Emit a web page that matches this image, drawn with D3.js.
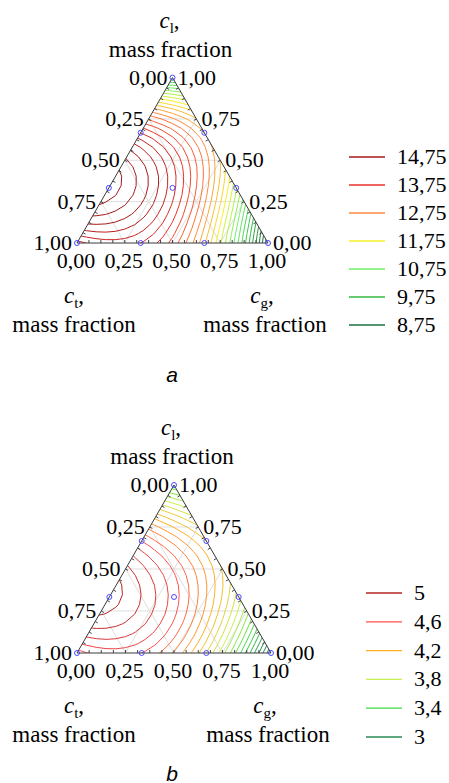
<!DOCTYPE html>
<html>
<head>
<meta charset="utf-8">
<script src="https://cdn.jsdelivr.net/npm/d3@7"></script>
<style>
body { margin: 0; background: #fff; }
</style>
</head>
<body>
<div id="chart"></div>
<script>
// simplex-lattice {3,3} plan, each point is [c_t, c_g, c_l]
const designPoints = [
    [1, 0, 0], [0, 1, 0], [0, 0, 1],
    [2/3, 1/3, 0], [1/3, 2/3, 0],
    [2/3, 0, 1/3], [1/3, 0, 2/3],
    [0, 2/3, 1/3], [0, 1/3, 2/3],
    [1/3, 1/3, 1/3]
];
// responses in the same order: t, g, l, ttg, tgg, ttl, tll, ggl, gll, tgl
const responseA = [13.9, 8.3, 9.8, 14.0, 12.3, 15.4, 14.0, 11.3, 12.5, 14.1];
const responseB = [4.55, 2.7, 3.4, 4.6, 4.0, 5.05, 4.6, 3.85, 4.1, 4.65];

const legendA = [14.75, 13.75, 12.75, 11.75, 10.75, 9.75, 8.75];
const legendColorsA = ["#a31a1a", "#e8302a", "#ff8a3d", "#f5f02a", "#6ef06a", "#35b845", "#1d6e3e"];
const legendB = [5, 4.6, 4.2, 3.8, 3.4, 3];
const legendColorsB = ["#b52525", "#ff5050", "#ffb020", "#c8f050", "#40dd40", "#2a8a55"];
const stepA = 0.25, stepB = 0.1;

const axisTicks = [0, 0.25, 0.5, 0.75, 1];
const gridValues = [0.25, 0.5, 0.75];

const W = 449, H = 783;
const SQ = Math.sqrt(3) / 2;
const SERIF = "'Liberation Serif', 'Times New Roman', Times, serif";
const fmt = d3.formatLocale({decimal: ",", thousands: " ", grouping: [3], currency: ["", ""]});
const tickFmt = fmt.format(".2f");
const legFmt = v => String(v).replace(".", ",");

let svg = d3.select("#chart").append("svg")
    .attr("width", W)
    .attr("height", H)
    .attr("font-family", SERIF)
    .attr("font-size", 22);

// full cubic Scheffe model from the 10 lattice responses
function cubicModel(y) {
    const [yt, yg, yl, yttg, ytgg, yttl, ytll, yggl, ygll, ytgl] = y;
    const b12 = 9/4 * (yttg + ytgg - yt - yg), d12 = 9/4 * (3*yttg - 3*ytgg - yt + yg);
    const b13 = 9/4 * (yttl + ytll - yt - yl), d13 = 9/4 * (3*yttl - 3*ytll - yt + yl);
    const b23 = 9/4 * (yggl + ygll - yg - yl), d23 = 9/4 * (3*yggl - 3*ygll - yg + yl);
    const b123 = 27*ytgl - 27/4 * (yttg + ytgg + yttl + ytll + yggl + ygll) + 9/2 * (yt + yg + yl);
    return (t, g, l) => yt*t + yg*g + yl*l + b12*t*g + b13*t*l + b23*g*l
        + d12*t*g*(t - g) + d13*t*l*(t - l) + d23*g*l*(g - l) + b123*t*g*l;
}

function txt(g, x, y, s, anchor, size) {
    return g.append("text").attr("x", x).attr("y", y)
        .attr("text-anchor", anchor || "middle")
        .style("font-family", SERIF).style("font-size", (size || 22) + "px").text(s);
}

function subLabel(g, x, y, sub) {
    let t = txt(g, x, y, null, "middle", 23);
    t.append("tspan").attr("font-style", "italic").text("c");
    t.append("tspan").style("font-size", "15px").attr("dy", 5).text(sub);
    t.append("tspan").attr("dy", -5).text(",");
}

function drawPanel(p) {
    let g = svg.append("g");
    let h = (p.right - p.left) * SQ;
    let x = d3.scaleLinear().domain([0, 1]).range([p.left, p.right]);
    let y = d3.scaleLinear().domain([0, SQ]).range([p.base, p.base - h]);
    // composition -> pixel
    let pt = (c) => [x(c[1] + c[2] / 2), y(c[2] * SQ)];
    let apex = pt([0, 0, 1]), bl = pt([1, 0, 0]), br = pt([0, 1, 0]);

    g.append("clipPath").attr("id", "clip-" + p.id)
        .append("polygon").attr("points", [apex, bl, br].map(d => d.join(",")).join(" "));

    // light grid
    let gridLines = [];
    gridValues.forEach(v => {
        gridLines.push([[1 - v, 0, v], [0, 1 - v, v]]);
        gridLines.push([[v, 0, 1 - v], [v, 1 - v, 0]]);
        gridLines.push([[0, v, 1 - v], [1 - v, v, 0]]);
    });
    g.selectAll(".grid").data(gridLines).enter().append("line")
        .attr("x1", d => pt(d[0])[0]).attr("y1", d => pt(d[0])[1])
        .attr("x2", d => pt(d[1])[0]).attr("y2", d => pt(d[1])[1])
        .attr("stroke", "#dedede").attr("stroke-width", 1);

    // contours on a regular grid in cartesian space
    let model = cubicModel(p.response);
    let s = 0.05, X0 = -0.1, Y0 = -0.1, nx = 25, ny = 21;
    let values = new Array(nx * ny);
    let lo = Infinity, hi = -Infinity;
    for (let j = 0; j < ny; j++) {
        for (let i = 0; i < nx; i++) {
            let X = X0 + i * s, Y = Y0 + j * s;
            let l = Y / SQ, gg = X - l / 2, t = 1 - l - gg;
            let v = model(t, gg, l);
            values[j * nx + i] = v;
            if (t >= 0 && gg >= 0 && l >= 0) { lo = Math.min(lo, v); hi = Math.max(hi, v); }
        }
    }
    let thresholds = d3.range(Math.ceil(lo / p.step), Math.floor(hi / p.step) + 1)
        .map(k => +(k * p.step).toFixed(4));
    let color = d3.scaleLinear().domain(p.legend).range(p.colors).clamp(true);
    let gx = d3.scaleLinear().domain([0.5, nx - 0.5]).range([X0, X0 + (nx - 1) * s]);
    let gy = d3.scaleLinear().domain([0.5, ny - 0.5]).range([Y0, Y0 + (ny - 1) * s]);
    let path = d3.geoPath(d3.geoTransform({
        point: function(a, b) { this.stream.point(x(gx(a)), y(gy(b))); }
    }));
    let contours = d3.contours().size([nx, ny]).thresholds(thresholds)(values);
    g.append("g").attr("clip-path", `url(#clip-${p.id})`)
        .selectAll("path").data(contours).enter().append("path")
        .attr("d", path)
        .attr("fill", "none")
        .attr("stroke", d => color(d.value))
        .attr("stroke-width", 1);

    // small ticks on the edges
    let minor = d3.range(1, 16).map(k => k / 16);
    let edgeTicks = [];
    minor.forEach(v => {
        edgeTicks.push({c: [1 - v, v, 0], n: [0, -1]});
        edgeTicks.push({c: [v, 0, 1 - v], n: [SQ, 0.5]});
        edgeTicks.push({c: [0, 1 - v, v], n: [-SQ, 0.5]});
    });
    g.selectAll(".tick").data(edgeTicks).enter().append("line")
        .attr("x1", d => pt(d.c)[0]).attr("y1", d => pt(d.c)[1])
        .attr("x2", d => pt(d.c)[0] + d.n[0] * 3).attr("y2", d => pt(d.c)[1] + d.n[1] * 3)
        .attr("stroke", "#444").attr("stroke-width", 1);

    g.append("polygon")
        .attr("points", [apex, bl, br].map(d => d.join(",")).join(" "))
        .attr("fill", "none").attr("stroke", "#3a3a3a").attr("stroke-width", 1);

    // design points
    g.selectAll(".pt").data(designPoints).enter().append("circle")
        .attr("cx", d => pt(d)[0]).attr("cy", d => pt(d)[1])
        .attr("r", 2.5).attr("fill", "none").attr("stroke", "#4a4aff").attr("stroke-width", 1);

    // tick labels
    axisTicks.forEach(v => {
        let a = pt([v, 0, 1 - v]), b = pt([0, 1 - v, v]), c = pt([1 - v, v, 0]);
        txt(g, a[0] - 5, a[1] + 7, tickFmt(v), "end");
        txt(g, b[0] + 5, b[1] + 7, tickFmt(v), "start");
        txt(g, c[0] - 1, p.base + 25, tickFmt(v), "middle");
    });

    // axis titles
    subLabel(g, apex[0] - 3, apex[1] - 50, "l");
    txt(g, apex[0] - 2, apex[1] - 21, "mass fraction", "middle", 23);
    subLabel(g, bl[0] - 3, p.base + 60, "t");
    txt(g, bl[0] - 3, p.base + 89, "mass fraction", "middle", 23);
    subLabel(g, br[0] - 6, p.base + 60, "g");
    txt(g, br[0] - 3, p.base + 89, "mass fraction", "middle", 23);

    // caption
    g.append("text").attr("x", 172).attr("y", p.captionY).attr("text-anchor", "middle")
        .style("font-family", "'Liberation Sans', Arial, sans-serif").style("font-style", "italic")
        .style("font-size", "21px").text(p.caption);

    // legend
    let ly = d3.scaleLinear().domain([0, p.legend.length - 1]).range(p.legendY);
    p.legend.forEach((d, i) => {
        g.append("line")
            .attr("x1", p.legendX).attr("x2", p.legendX + 36)
            .attr("y1", ly(i)).attr("y2", ly(i))
            .attr("stroke", p.colors[i]).attr("stroke-width", 1.3);
        txt(g, p.legendX + 48, ly(i) + 7, legFmt(d), "start");
    });
}

drawPanel({id: "a", left: 77, right: 268, base: 243, response: responseA, step: stepA,
    legend: legendA, colors: legendColorsA, legendX: 349, legendY: [157, 325], caption: "a", captionY: 382});
drawPanel({id: "b", left: 77, right: 271, base: 653, response: responseB, step: stepB,
    legend: legendB, colors: legendColorsB, legendX: 366, legendY: [593, 737], caption: "b", captionY: 781});
</script>
</body>
</html>
